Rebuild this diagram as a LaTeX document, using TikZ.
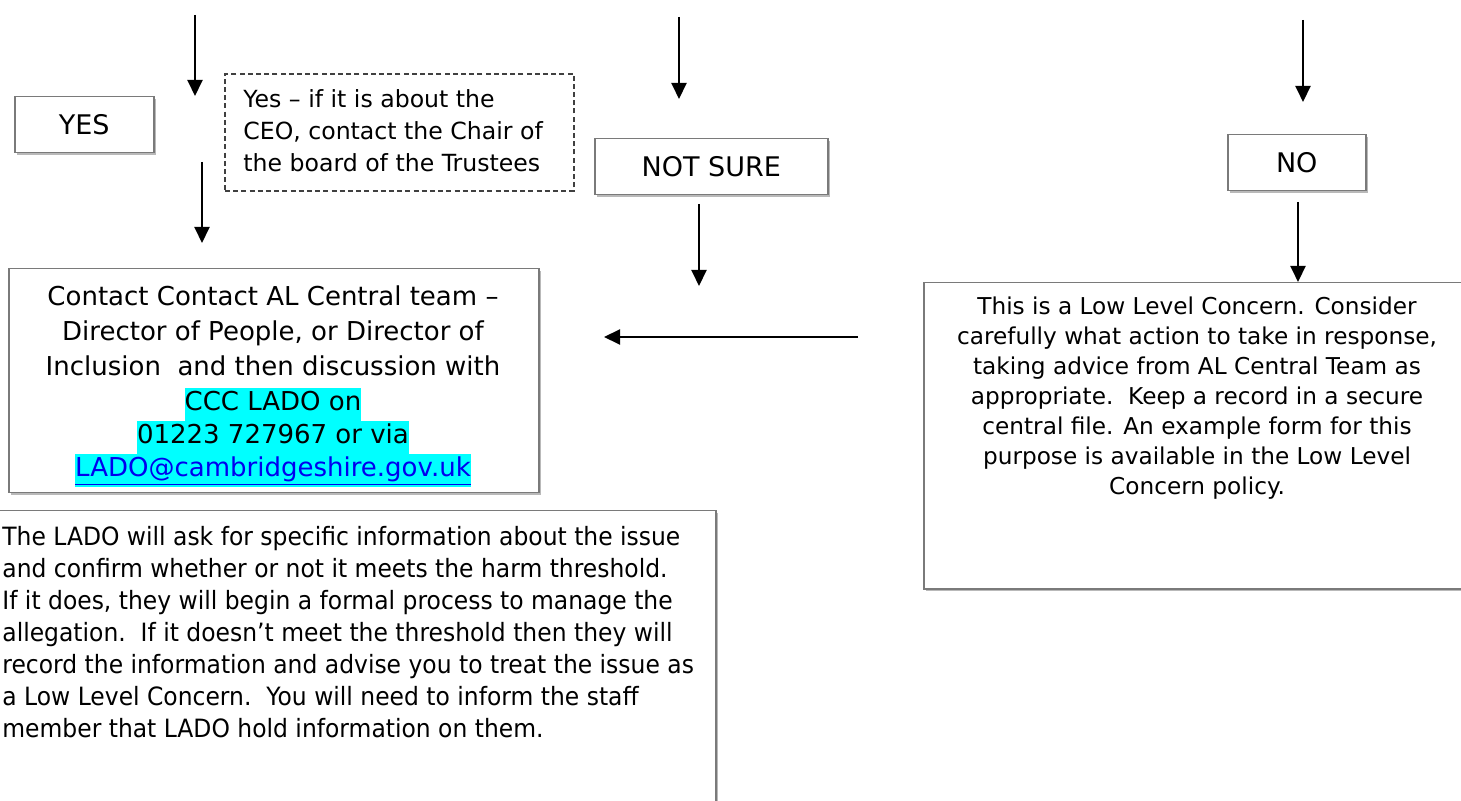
\documentclass[tikz,border=0pt]{standalone}
\usepackage{fontspec}
\setmainfont{DejaVu Sans}
\newfontfamily\narrowfont{DejaVu Sans}[FakeStretch=0.93]
\usetikzlibrary{arrows.meta,shadows,positioning}
\definecolor{boxgray}{HTML}{7A7A7A}
\definecolor{hilite}{HTML}{00FFFF}
\definecolor{linkblue}{HTML}{0000EE}
\newcommand{\hlline}[1]{{\setlength{\fboxsep}{0pt}\colorbox{hilite}{\rule[-5.5pt]{0pt}{16.5pt}#1}}}
\begin{document}
\begin{tikzpicture}[x=0.5pt,y=-0.5pt,
	box/.style={draw=boxgray,line width=0.75pt,fill=white,inner sep=0pt,
		general shadow={fill=gray!55,shadow xshift=0.9pt,shadow yshift=-0.9pt}},
	dashbox/.style={draw=black!75,line width=0.9pt,dash pattern=on 2.5pt off 1.6pt,inner sep=0pt},
	answer/.style={font=\fontsize{13.5}{16}\selectfont},
	arr/.style={-{Triangle[width=7.5pt,length=8pt]},line width=1pt}]
				\useasboundingbox (0,0) rectangle (1461,801);
				\node [box,answer,anchor=north west,minimum width=69.5pt,minimum height=28pt] (yes) at (14,96) {YES};
				\node [dashbox,anchor=north west,minimum width=174.5pt,minimum height=58.5pt] (ceo) at (224,73) {};
				\node [anchor=north west,inner sep=0pt,align=left,font=\fontsize{11.8}{16}\selectfont] (ceotext) at (243,89)
					{Yes -- if it is about the\\CEO, contact the Chair of\\the board of the Trustees};
				\node [box,answer,anchor=north west,minimum width=116.5pt,minimum height=28pt] (notsure) at (594,138) {NOT SURE};
				\node [box,answer,anchor=north west,minimum width=69pt,minimum height=28pt] (no) at (1227,134) {NO};
				\node [box,anchor=north west,minimum width=265pt,minimum height=112pt] (contact) at (8,268) {};
				\node [anchor=north,inner sep=0pt,align=center,font=\fontsize{13}{17.5}\selectfont] (contacttext) at (273,285)
					{\lineskiplimit=-20pt\relax Contact Contact AL Central team --\\Director of People, or Director of\\Inclusion\ \ and then discussion with\\
					\hlline{CCC LADO on}\\[-1pt]\hlline{01223 727967 or via}\\[-1pt]
					\hlline{\color{linkblue}\underline{LADO@cambridgeshire.gov.uk}}};
				\node [box,anchor=north west,minimum width=274pt,minimum height=153pt] (low) at (923,282) {};
				\node [anchor=north,inner sep=0pt,align=center,font=\fontsize{11.6}{15}\selectfont] (lowtext) at (1197,296)
					{This is a Low Level Concern. Consider\\carefully what action to take in response,\\taking advice from AL Central Team as\\
					appropriate.\ \ Keep a record in a secure\\central file. An example form for this\\purpose is available in the Low Level\\Concern policy.};
				\node [box,anchor=north west,minimum width=362.5pt,minimum height=160pt] (lado) at (-10,510) {};
				\node [anchor=north west,inner sep=0pt,align=left,font=\narrowfont\fontsize{12.6}{16}\selectfont] (ladotext) at (2,526)
					{The LADO will ask for specific information about the issue\\and confirm whether or not it meets the harm threshold.\\
					If it does, they will begin a formal process to manage the\\allegation.\ \ If it doesn’t meet the threshold then they will\\
					record the information and advise you to treat the issue as\\a Low Level Concern.\ \ You will need to inform the staff\\
					member that LADO hold information on them.};
				\coordinate (yesin) at (195,15);
				\coordinate (yesout) at (195,96);
				\coordinate (contactin) at (202,162);
				\coordinate (contactout) at (202,243);
				\coordinate (surein) at (679,17);
				\coordinate (sureout) at (679,99);
				\coordinate (surenext) at (699,204);
				\coordinate (sureend) at (699,286);
				\coordinate (noin) at (1303,20);
				\coordinate (noout) at (1303,102);
				\coordinate (nonext) at (1298,202);
				\coordinate (leftin) at (858,337);
				\coordinate (leftout) at (604,337);
				\draw [arr] (yesin) -- (yesout);
				\draw [arr] (contactin) -- (contactout);
				\draw [arr] (surein) -- (sureout);
				\draw [arr] (surenext) -- (sureend);
				\draw [arr] (noin) -- (noout);
				\draw [arr] (nonext) -- (low.north -| nonext);
				\draw [arr] (leftin) -- (leftout);
			\end{tikzpicture}
\end{document}
